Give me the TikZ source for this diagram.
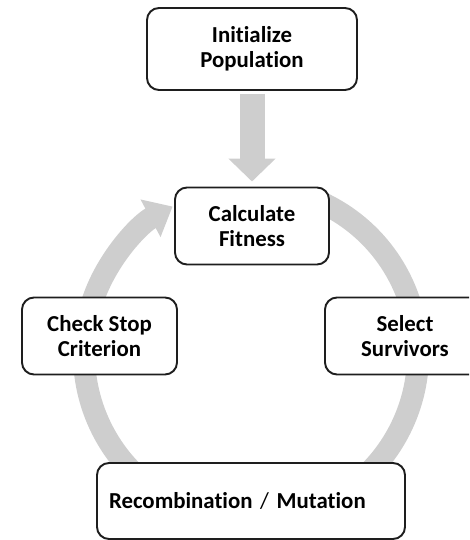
\documentclass[tikz,border=0pt]{standalone}
\usepackage{fontspec}
\setmainfont[Ligatures=NoCommon]{Carlito}
\usepackage{xcolor}
\usetikzlibrary{arrows.meta}
\definecolor{ringgray}{RGB}{206,206,206}
\definecolor{boxline}{RGB}{30,30,30}
\tikzset{
  stage/.style={draw=boxline, line width=1.1pt, rounded corners=0.24cm, fill=white,
    align=center, font=\fontsize{13}{14.5}\selectfont\bfseries, inner sep=0pt},
}

\begin{document}
\begin{tikzpicture}
\useasboundingbox (0,0) rectangle (9.38,10.8);
\begin{scope}
\clip (0,0) rectangle (9.38,10.8);

% ring behind the boxes
\draw[ringgray, line width=0.44cm, -{Triangle[width=0.82cm,length=0.5cm]}]
  (5.02,3.72) ++(65:3.34) arc[start angle=65, end angle=-242, radius=3.34];

\node[stage, minimum width=4.2cm, minimum height=1.64cm] (init) at (5.04,9.82) {Initialize\\Population};
\node[stage, minimum width=3.08cm, minimum height=1.54cm] (fit) at (5.04,6.28) {Calculate\\Fitness};
\node[stage, minimum width=3.1cm, minimum height=1.54cm] (stop) at (1.99,4.08) {Check Stop\\Criterion};
\node[stage, minimum width=3.2cm, minimum height=1.54cm] (sel) at (8.1,4.08) {Select\\Survivors};
\node[stage, minimum height=1.52cm, text width=5.68cm, inner xsep=0.24cm, align=left] (rec) at (5.02,0.78)
  {Recombination {\mdseries/} Mutation};

% entry arrow
\draw[ringgray, line width=0.5cm, -{Triangle[width=0.92cm,length=0.46cm]}]
  ([yshift=-0.06cm]init.south) -- ([yshift=0.1cm]fit.north);
\end{scope}
\end{tikzpicture}
\end{document}
